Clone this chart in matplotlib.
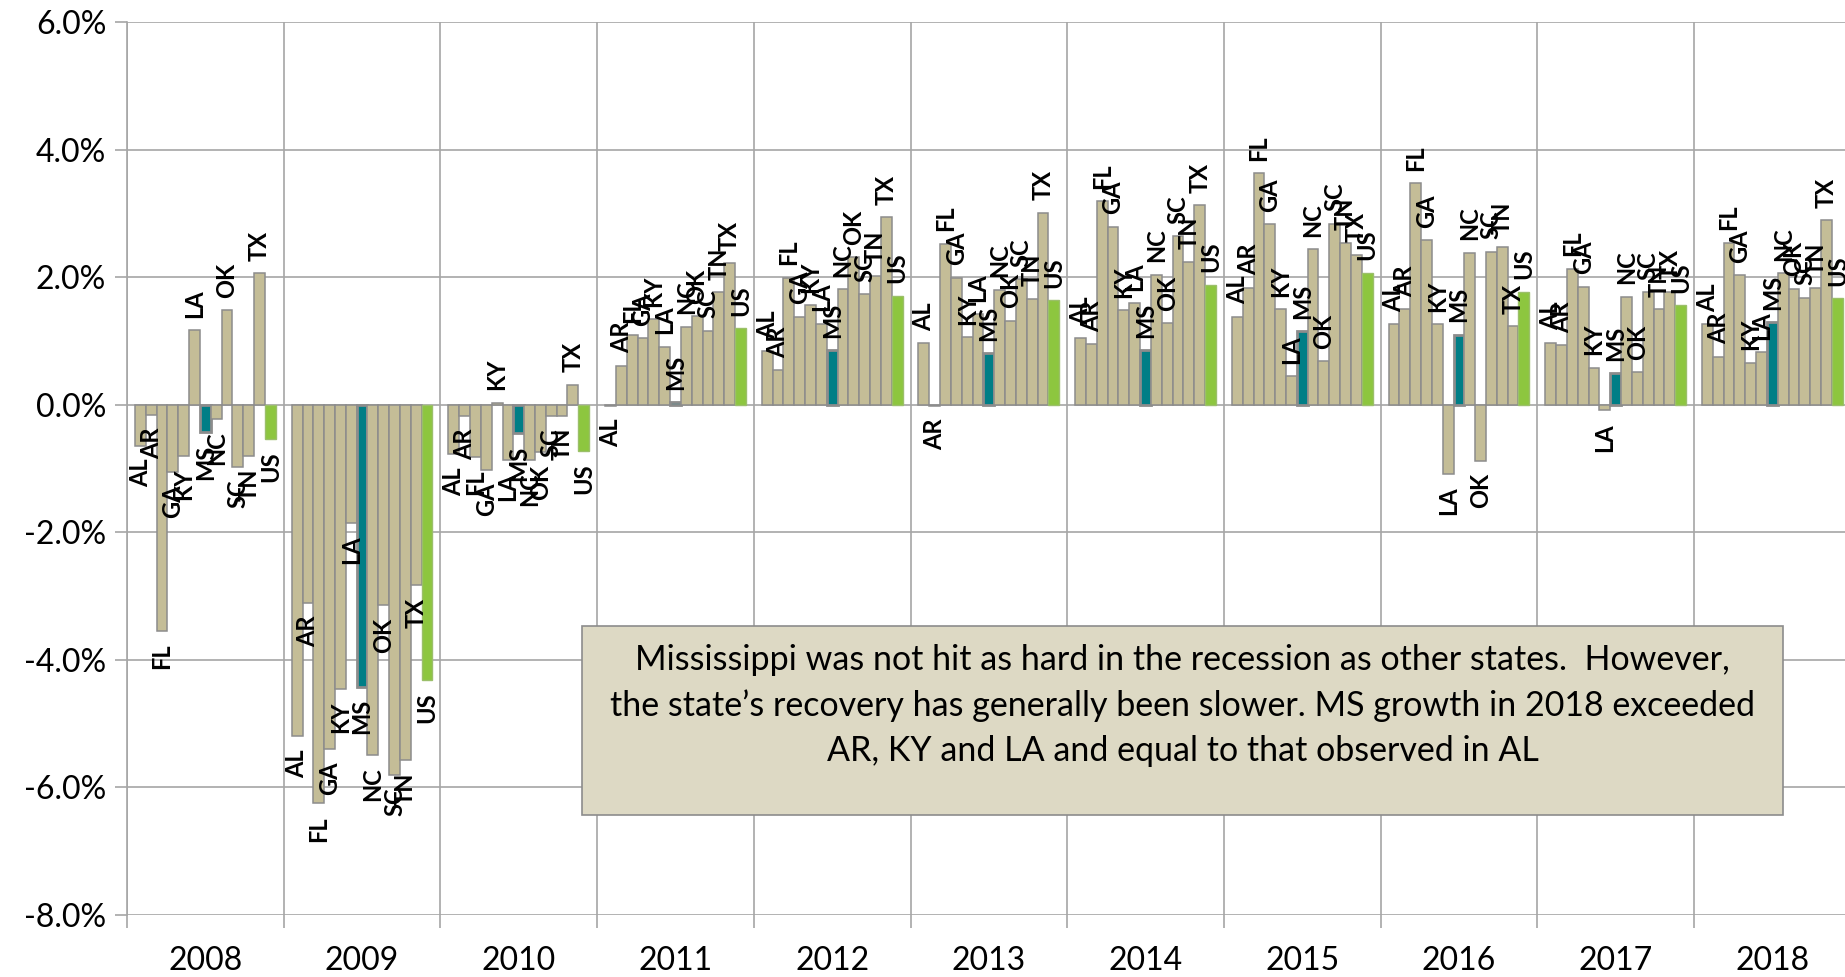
import matplotlib
matplotlib.use("Agg")
import matplotlib.pyplot as plt
import numpy as np
from matplotlib.patches import Rectangle
from matplotlib.ticker import FixedLocator, FuncFormatter

plt.rcParams['font.family'] = ['Lato', 'DejaVu Sans']

years = ['2008', '2009', '2010', '2011', '2012', '2013', '2014', '2015', '2016', '2017', '2018']
states = ['AL', 'AR', 'FL', 'GA', 'KY', 'LA', 'MS', 'NC', 'OK', 'SC', 'TN', 'TX', 'US']

# growth (%) per state, one list per state across the years 2008..2018
AL = [-0.65, -5.20, -0.78, -0.02, 0.84, 0.96, 1.05, 1.38, 1.26, 0.97, 1.26]
AR = [-0.16, -3.11, -0.17, 0.61, 0.54, -0.02, 0.95, 1.83, 1.50, 0.93, 0.75]
FL = [-3.55, -6.25, -0.82, 1.09, 1.99, 2.52, 3.19, 3.63, 3.47, 2.13, 2.54]
GA = [-1.05, -5.39, -1.02, 1.04, 1.38, 1.99, 2.79, 2.83, 2.58, 1.85, 2.03]
KY = [-0.80, -4.46, 0.03, 1.34, 1.56, 1.06, 1.48, 1.50, 1.26, 0.58, 0.66]
LA = [1.17, -1.86, -0.86, 0.91, 1.27, 1.42, 1.59, 0.45, -1.08, -0.09, 0.82]
MS = [-0.43, -4.42, -0.45, 0.04, 0.85, 0.81, 0.85, 1.15, 1.10, 0.49, 1.29]
NC = [-0.22, -5.49, -0.87, 1.22, 1.81, 1.80, 2.04, 2.44, 2.38, 1.69, 2.06]
OK = [1.48, -3.14, -0.74, 1.39, 2.31, 1.32, 1.28, 0.68, -0.88, 0.51, 1.82]
SC = [-0.97, -5.80, -0.17, 1.16, 1.73, 1.97, 2.64, 2.84, 2.40, 1.76, 1.68]
TN = [-0.80, -5.57, -0.17, 1.76, 2.02, 1.66, 2.24, 2.54, 2.48, 1.50, 1.83]
TX = [2.06, -2.83, 0.31, 2.22, 2.94, 3.01, 3.13, 2.35, 1.23, 1.77, 2.89]
US = [-0.54, -4.31, -0.73, 1.20, 1.71, 1.64, 1.88, 2.07, 1.77, 1.56, 1.67]

series = [AL, AR, FL, GA, KY, LA, MS, NC, OK, SC, TN, TX, US]

yticks = [6, 4, 2, 0, -2, -4, -6, -8]
note = ("Mississippi was not hit as hard in the recession as other states.  However,\n"
        "the state\u2019s recovery has generally been slower. MS growth in 2018 exceeded\n"
        "AR, KY and LA and equal to that observed in AL")

TAN = '#C4BD97'
TEAL = '#007E86'
GREEN = '#8DC63F'
EDGE = '#8C8C8C'
GRID = '#A6A6A6'

W, H = 1845, 977
fig = plt.figure(figsize=(W / 100, H / 100), dpi=100)
left, right_px, top, bottom = 127, 127 + 11 * 156.7, 22, 915
ax = fig.add_axes([left / W, (H - bottom) / H, (right_px - left) / W, (bottom - top) / H])

n = len(states)
span = 0.898
w = span / n
x0 = np.arange(len(years))

for j, (st, vals) in enumerate(zip(states, series)):
    xs = x0 - span / 2 + (j + 0.5) * w
    if st == 'MS':
        fc, ec, lw = TEAL, EDGE, 2.0
    elif st == 'US':
        fc, ec, lw = GREEN, '#9BBF6A', 1.0
    else:
        fc, ec, lw = TAN, EDGE, 1.1
    ax.bar(xs, vals, width=w, color=fc, edgecolor=ec, linewidth=lw, zorder=3)
    for x, v in zip(xs, vals):
        if v >= 0:
            ax.annotate(st, (x, v), xytext=(0, 9), textcoords='offset points',
                        rotation=90, ha='center', va='bottom', fontsize=17,
                        fontweight='bold', color='black', zorder=4)
        else:
            ax.annotate(st, (x, v), xytext=(0, -9), textcoords='offset points',
                        rotation=90, ha='center', va='top', fontsize=17,
                        fontweight='bold', color='black', zorder=4)

ax.set_xlim(-0.5, len(years) - 0.5)
ax.set_ylim(-8, 6)
ax.yaxis.set_major_locator(FixedLocator(yticks))
ax.yaxis.set_major_formatter(FuncFormatter(lambda v, p: f"{v:.1f}%"))
ax.set_xticks(x0)
ax.set_xticklabels(years)
ax.xaxis.set_minor_locator(FixedLocator(np.arange(len(years) + 1) - 0.5))
ax.tick_params(axis='x', which='major', length=0, labelsize=23, pad=22)
ax.tick_params(axis='x', which='minor', length=9, width=1.2, color=GRID)
ax.tick_params(axis='y', which='major', length=9, width=1.2, color=GRID, labelsize=23, pad=6)

ax.grid(True, axis='y', which='major', color=GRID, linewidth=1.2, zorder=0)
ax.grid(True, axis='x', which='minor', color=GRID, linewidth=1.2, zorder=0)
for s in ['top', 'right', 'bottom']:
    ax.spines[s].set_visible(False)
ax.spines['left'].set_color(GRID)
ax.spines['left'].set_linewidth(1.2)

# annotation box
bx0, bx1 = 2.404, 10.068
by0, by1 = -6.43, -3.47
ax.add_patch(Rectangle((bx0, by0), bx1 - bx0, by1 - by0, facecolor='#DDD9C4',
                       edgecolor=EDGE, linewidth=1.2, zorder=5))
ax.text((bx0 + bx1) / 2, -4.72, note, ha='center', va='center', fontsize=24.5,
        linespacing=1.5, color='black', zorder=6)

fig.savefig('out.png', dpi=100)
